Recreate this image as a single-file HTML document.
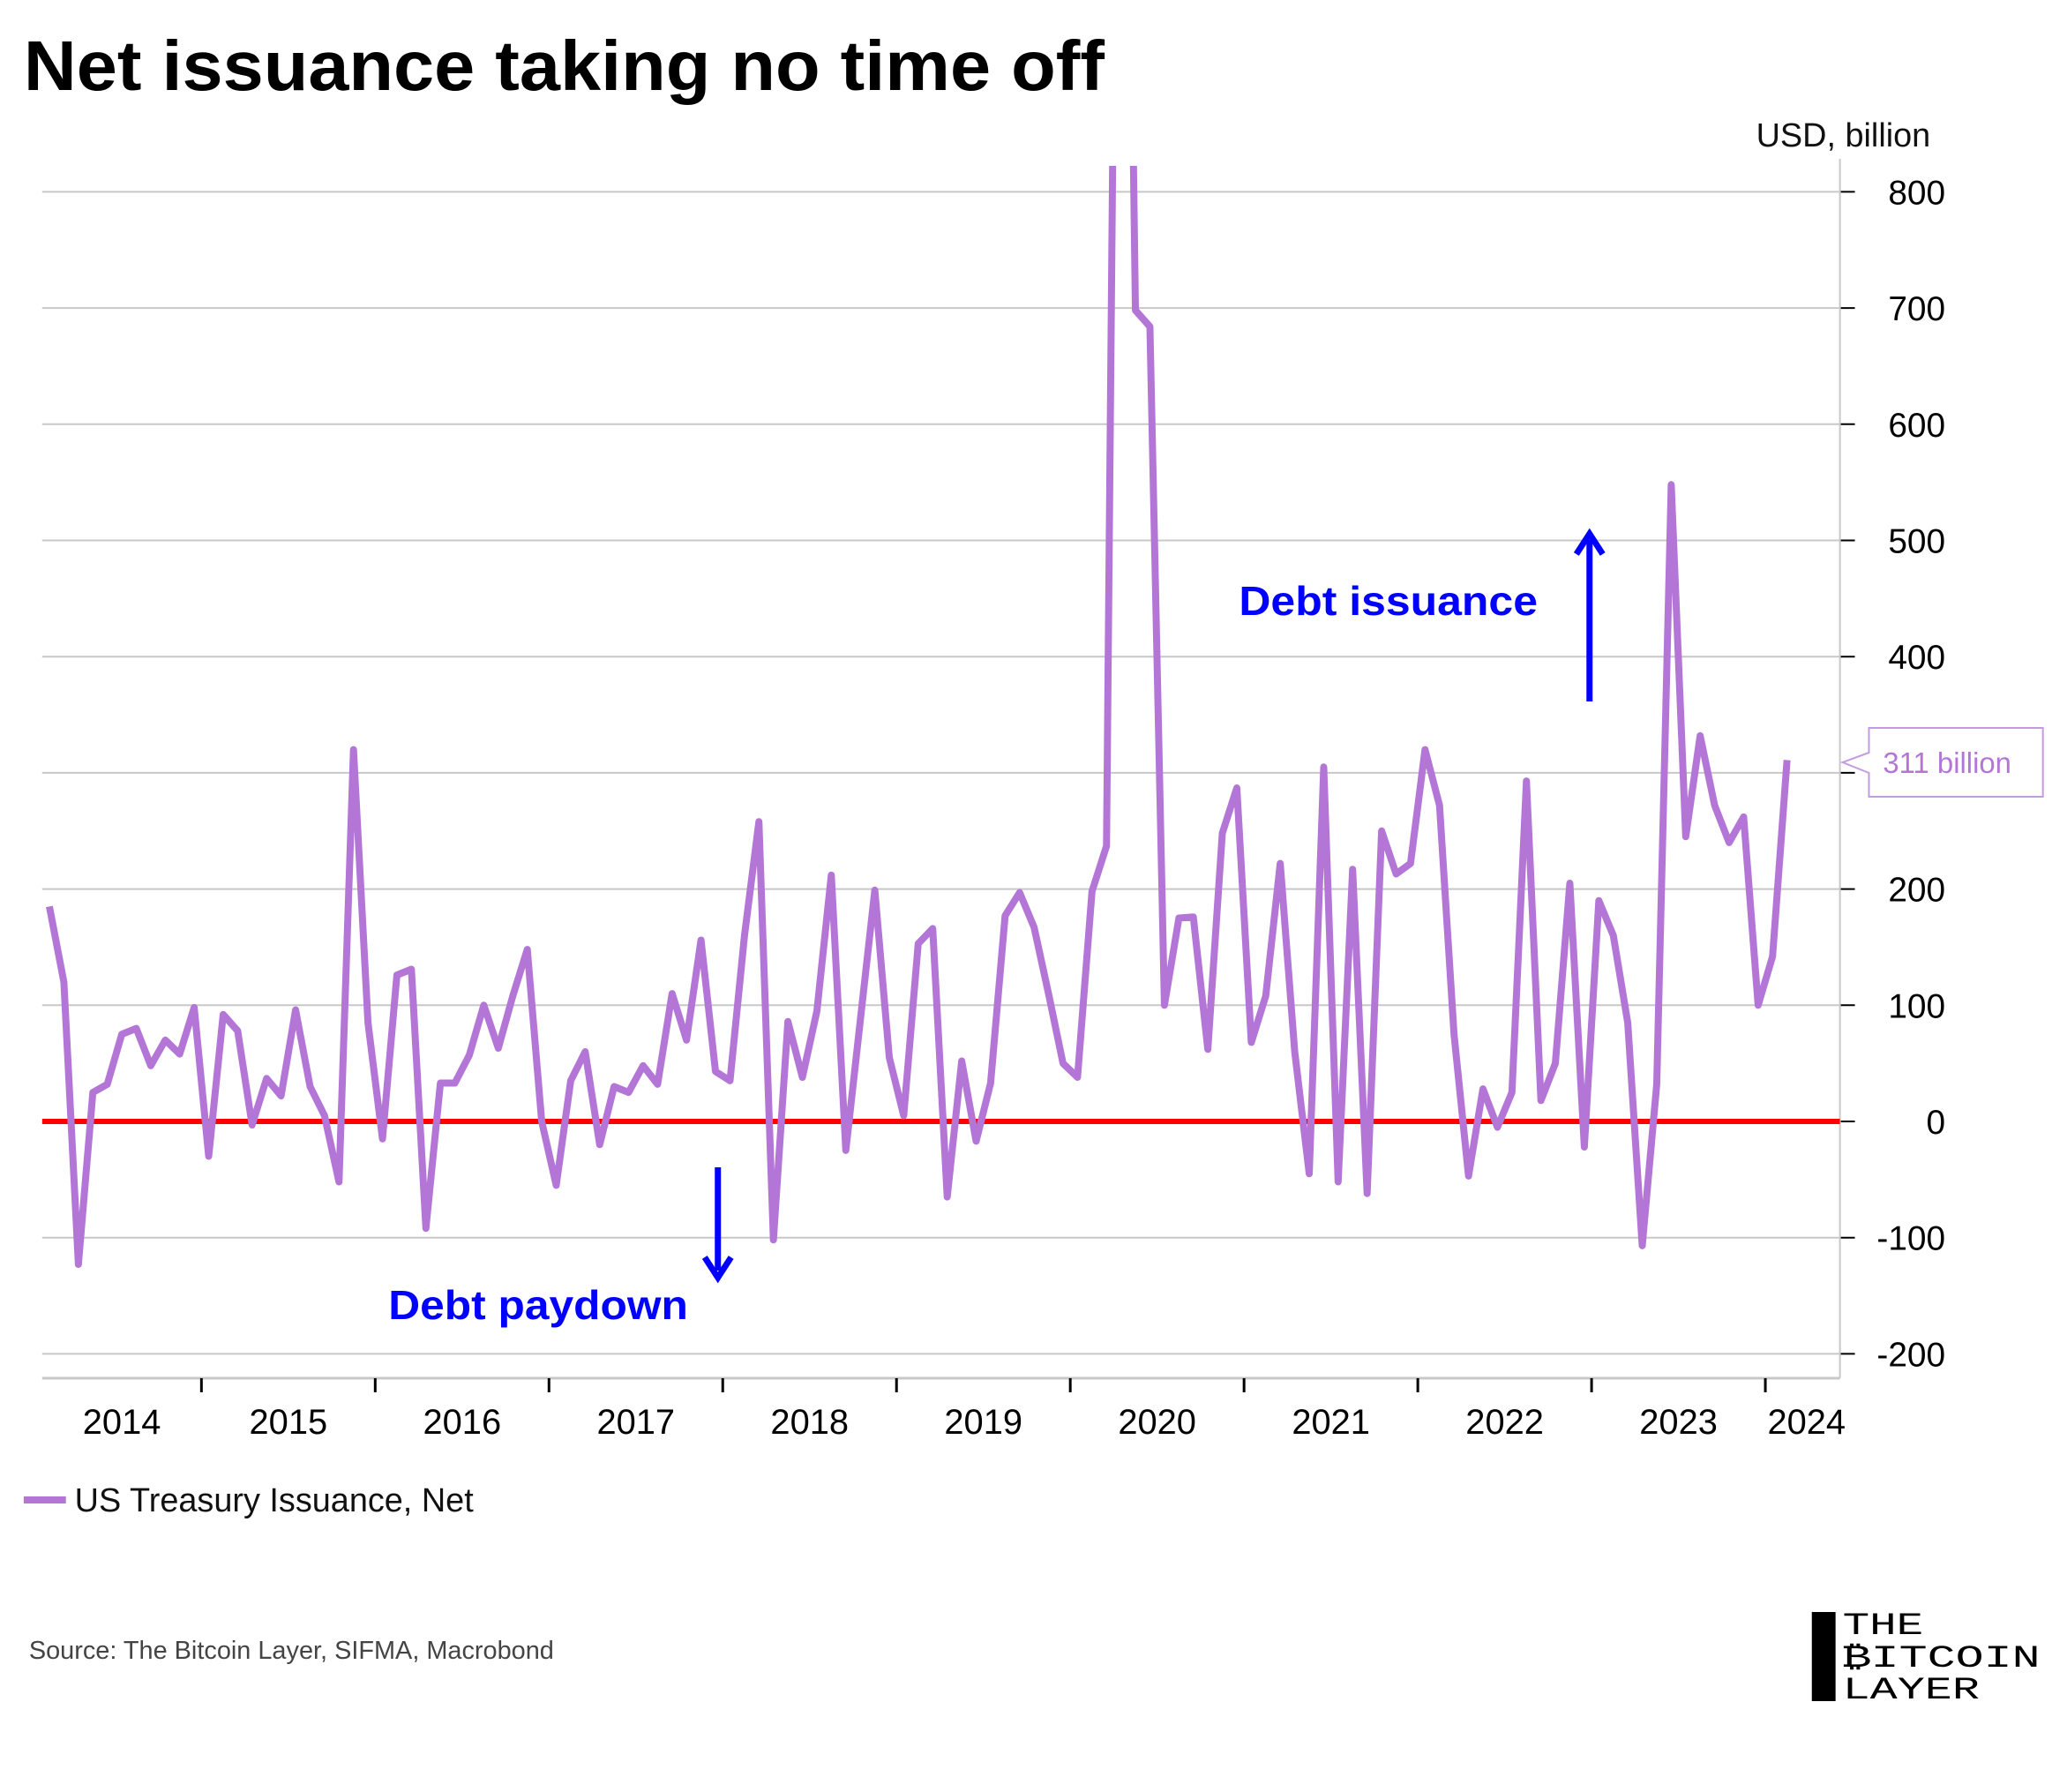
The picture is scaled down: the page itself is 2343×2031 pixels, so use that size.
<!DOCTYPE html>
<html><head><meta charset="utf-8"><style>
html,body{margin:0;padding:0;background:#fff;}
svg{display:block;font-family:"Liberation Sans",sans-serif;}
</style></head><body>
<svg id="chart" width="2343" height="2031" viewBox="0 0 2343 2031" xmlns="http://www.w3.org/2000/svg">
<g transform="scale(0.996,1)">
<text x="27" y="102" font-size="80" font-weight="bold" textLength="1230" lengthAdjust="spacingAndGlyphs">Net issuance taking no time off</text>
<text x="2197" y="166" font-size="38" text-anchor="end" fill="#111">USD, billion</text>
<g id="grid"></g>
<g id="yaxis"></g>
<g id="xaxis"></g>
<defs><clipPath id="plotclip"><rect x="40" y="188" width="2054" height="1400"/></clipPath></defs>
<line id="zero" stroke="#ff0000" stroke-width="6"/>
<g clip-path="url(#plotclip)"><polyline id="series" fill="none" stroke="#b476d6" stroke-width="8" stroke-linejoin="round"/></g>
<g>
<line x1="1809" y1="795" x2="1809" y2="612" stroke="#0000ff" stroke-width="7"/>
<polyline points="1794,628 1809,605 1824,628" fill="none" stroke="#0000ff" stroke-width="7"/>
<text x="1410" y="697" font-size="46" font-weight="bold" fill="#0000ff" textLength="340" lengthAdjust="spacingAndGlyphs">Debt issuance</text>
</g>
<g>
<line x1="817" y1="1323" x2="817" y2="1440" stroke="#0000ff" stroke-width="7"/>
<polyline points="802,1425 817,1448 832,1425" fill="none" stroke="#0000ff" stroke-width="7"/>
<text x="442" y="1495" font-size="46" font-weight="bold" fill="#0000ff" textLength="341" lengthAdjust="spacingAndGlyphs">Debt paydown</text>
</g>
<g>
<path d="M2127,825 H2325 V903 H2127 V876 L2097,864 L2127,853 Z" fill="#fff" stroke="#c59be0" stroke-width="2"/>
<text x="2143" y="876" font-size="33" fill="#b476d6">311 billion</text>
</g>
<g>
<line x1="27" y1="1700" x2="75" y2="1700" stroke="#b476d6" stroke-width="8"/>
<text x="85" y="1713" font-size="38" fill="#111">US Treasury Issuance, Net</text>
</g>
<text x="33" y="1880" font-size="29" fill="#444">Source: The Bitcoin Layer, SIFMA, Macrobond</text>
<g>
<rect x="2062" y="1827" width="27" height="101" fill="#000"/>
<text x="2097" y="1852" font-family="Liberation Mono, monospace" font-size="35" textLength="92" lengthAdjust="spacingAndGlyphs">THE</text>
<text x="2097" y="1889" font-family="Liberation Mono, monospace" font-size="35" textLength="225" lengthAdjust="spacingAndGlyphs">₿ITCOIN</text>
<text x="2097" y="1925" font-family="Liberation Mono, monospace" font-size="35" textLength="156" lengthAdjust="spacingAndGlyphs">LAYER</text>
</g>
</g>
</svg>
<script>
const yTicks = [-200,-100,0,100,200,300,400,500,600,700,800];
const yearLabels = ["2014","2015","2016","2017","2018","2019","2020","2021","2022","2023","2024"];
// monthly values from Feb 2014 to Feb 2024
const values = [185,120,-123,25,32,75,80,48,70,58,98,-30,92,78,-3,37,22,96,30,5,-52,320,85,-15,126,131,-92,33,33,57,100,63,108,148,0,-55,35,60,-20,30,25,48,32,110,70,156,43,35,160,258,-102,86,38,95,212,-25,87,199,55,5,153,166,-65,52,-17,33,177,197,167,110,50,38,198,237,1620,698,684,100,175,176,62,248,287,68,108,222,60,-45,305,-52,217,-62,250,213,222,320,272,75,-47,28,-5,25,293,18,50,205,-22,190,160,85,-107,32,548,245,332,272,240,262,100,142,311];
const startMonth = 1; // Feb 2014 (months since Jan 2014)

const NS="http://www.w3.org/2000/svg";
const X0=31.5, MW=16.48, PL=48, PR=2094, PB=1562;
function xMonth(m){return X0+MW*m;}
function yVal(v){return 1271-v*1.317;}
function mk(tag,attrs,parent){const e=document.createElementNS(NS,tag);for(const k in attrs)e.setAttribute(k,attrs[k]);parent.appendChild(e);return e;}

const grid=document.getElementById('grid'), yaxis=document.getElementById('yaxis'), xaxis=document.getElementById('xaxis');
yTicks.forEach(t=>{
  const y=yVal(t);
  if(t!==0){const g=mk('line',{x1:PL,x2:PR,y1:y,y2:y,stroke:'#c8c8c8','stroke-width':2},grid);
  
  }
  const tk=mk('line',{x1:PR,x2:PR+17,y1:y,y2:y,stroke:'#000','stroke-width':2},yaxis);
  
  
  const tx=mk('text',{x:2214,y:y+14,'font-size':39,'text-anchor':'end',fill:'#000'},yaxis);
  
  
  tx.textContent=t;
});
mk('line',{x1:PR,x2:PR,y1:180,y2:PB,stroke:'#c8c8c8','stroke-width':2},yaxis);
mk('line',{x1:PL,x2:PR,y1:PB,y2:PB,stroke:'#c8c8c8','stroke-width':3},xaxis);
yearLabels.forEach((lab,i)=>{
  const xs=xMonth(i*12), xe=Math.min(xMonth(i*12+12),PR);
  if(i>0){const tk=mk('line',{x1:xs,x2:xs,y1:PB,y2:PB+16,stroke:'#000','stroke-width':3},xaxis);
  
  }
  const cx = i===yearLabels.length-1 ? 2056 : (Math.max(xs,PL)+xe)/2;
  const tx=mk('text',{x:cx,y:1625,'font-size':40,'text-anchor':'middle',fill:'#000'},xaxis);
  
  
  tx.textContent=lab;
});
const z=document.getElementById('zero');
z.setAttribute('x1',PL);z.setAttribute('x2',PR);z.setAttribute('y1',yVal(0));z.setAttribute('y2',yVal(0));
document.getElementById('series').setAttribute('points',values.map((v,i)=>xMonth(startMonth+i+0.5).toFixed(1)+','+yVal(v).toFixed(1)).join(' '));
</script>
</body></html>
